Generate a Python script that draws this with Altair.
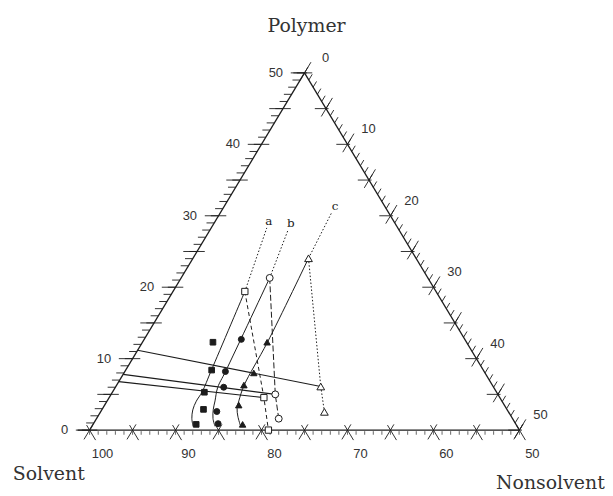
import altair as alt
import pandas as pd

# ---------------- data (wt %) : p = polymer, n = nonsolvent ----------------
TICKS = list(range(0, 51))
LABEL_VALUES = [0, 10, 20, 30, 40, 50]
POLYMER_LABELS = ["0", "10", "20", "30", "40", "50"]
NONSOLVENT_LABELS = ["0", "10", "20", "30", "40", "50"]
SOLVENT_LABELS = ["100", "90", "80", "70", "60", "50"]

# filled symbols (cloud points)
CLOUD_A_P = [12.3, 8.4, 5.3, 2.9, 0.8]
CLOUD_A_N = [8.2, 10.0, 10.7, 11.8, 12.0]
CLOUD_B_P = [12.7, 8.2, 6.0, 2.6, 0.9]
CLOUD_B_N = [11.3, 11.7, 12.6, 13.5, 14.5]
CLOUD_C_P = [12.3, 8.0, 6.3, 3.5, 0.8]
CLOUD_C_N = [14.5, 15.1, 14.8, 15.6, 17.4]

# open symbols
OPEN_A_P = [19.4, 4.55, 0.0]
OPEN_A_N = [8.36, 18.0, 20.8]
OPEN_B_P = [21.3, 5.0, 1.6]
OPEN_B_N = [10.3, 19.1, 21.2]
OPEN_C_P = [24.05, 6.1, 2.55]
OPEN_C_N = [13.44, 23.84, 26.04]

# solid curves
CURVE_A_P = [0.52, 1.63, 2.83, 4.04, 5.33, 8.36, 19.4]
CURVE_A_N = [11.78, 11.08, 10.59, 10.39, 10.42, 9.98, 8.36]
CURVE_B_P = [0.52, 1.63, 2.92, 4.08, 5.95, 8.22, 21.3]
CURVE_B_N = [14.33, 13.54, 12.93, 12.55, 11.92, 11.71, 10.3]
CURVE_C_P = [0.56, 1.95, 3.02, 4.08, 6.27, 12.3, 24.05]
CURVE_C_N = [17.28, 16.27, 15.65, 15.32, 14.84, 14.54, 13.44]

# tie lines: start on polymer axis (n = 0)
TIE_START_P = [11.18, 7.8, 6.78]
TIE_END_P = [6.1, 5.0, 4.55]
TIE_END_N = [23.84, 19.1, 18.0]

# dotted extensions to series names
SERIES_NAMES = ["a", "b", "c"]
EXT_END_P = [28.3, 27.9, 30.4]
EXT_END_N = [6.46, 9.1, 12.94]
NAME_P = [29.3, 29.0, 31.3]
NAME_N = [6.2, 8.9, 12.9]

TITLES = ["Polymer", "Solvent", "Nonsolvent"]
TITLE_P = [56.55, -6.1, -7.4]
TITLE_N = [-3.04, -1.7, 57.3]

INK = "#1c1c1c"

# ---------------- scales ----------------
XS = alt.Scale(domain=[0, 50], range=[82, 514], nice=False, zero=False)
YS = alt.Scale(domain=[0, 50], range=[423, 64], nice=False, zero=False)
X = alt.X("X:Q", scale=XS, axis=None)
Y = alt.Y("Y:Q", scale=YS, axis=None)


def tern(df):
    return alt.Chart(df).transform_calculate(X="datum.n + datum.p / 2", Y="datum.p")


def segs_chart(df, **mark):
    return (
        alt.Chart(df)
        .transform_calculate(
            X="datum.n1 + datum.p1 / 2", Y="datum.p1",
            X2="datum.n2 + datum.p2 / 2", Y2="datum.p2",
        )
        .mark_rule(**mark)
        .encode(x=X, y=Y, x2="X2:Q", y2="Y2:Q")
    )


# ---------------- axes (triangle + ticks) ----------------
edge_rows, tick_rows, minor_rows = [], [], []
edge_rows.append(dict(p1=0, n1=-1.4, p2=0, n2=50))
edge_rows.append(dict(p1=0, n1=0, p2=50, n2=0))
edge_rows.append(dict(p1=50, n1=0, p2=0, n2=50))
for t in TICKS:
    big = t % 5 == 0
    # polymer axis (left)
    tick_rows.append(dict(p1=t, n1=0, p2=t, n2=-0.9))
    if big:
        tick_rows.append(dict(p1=t, n1=-1.6, p2=t, n2=0.9))
    # nonsolvent axis (right)
    pr = 50 - t
    tick_rows.append(dict(p1=pr, n1=t, p2=pr + 0.8, n2=t))
    if big:
        tick_rows.append(dict(p1=pr, n1=t - 1.3, p2=pr, n2=t + 0.3))
        tick_rows.append(dict(p1=pr - 1.1, n1=t, p2=pr + 1.5, n2=t))
    # solvent axis (bottom)
    minor_rows.append(dict(p1=-0.15, n1=t + 0.075, p2=-0.65, n2=t + 0.325))
    if big:
        tick_rows.append(dict(p1=-1.3, n1=t, p2=0.8, n2=t))
        tick_rows.append(dict(p1=-1.4, n1=t + 1.4, p2=0.7, n2=t - 0.7))

edges = segs_chart(pd.DataFrame(edge_rows), color=INK, strokeWidth=1.3)
ticks = segs_chart(pd.DataFrame(tick_rows), color=INK, strokeWidth=0.9)
minors = segs_chart(pd.DataFrame(minor_rows), color="#555", strokeWidth=0.9)

# axis labels
lab_left = pd.DataFrame({"p": LABEL_VALUES, "n": [-2.5] * 6, "t": POLYMER_LABELS})
lab_right = pd.DataFrame({"p": [50 - v + 2.1 for v in LABEL_VALUES],
                          "n": [v + 1.4 for v in LABEL_VALUES], "t": NONSOLVENT_LABELS})
lab_bottom = pd.DataFrame({"p": [-3.34] * 6, "n": [v + 3.17 for v in LABEL_VALUES],
                           "t": SOLVENT_LABELS})
num_font = dict(font="Liberation Sans", fontSize=13, color="#333")
t_left = tern(lab_left).mark_text(align="right", baseline="middle", **num_font).encode(x=X, y=Y, text="t:N")
t_right = tern(lab_right).mark_text(align="center", baseline="middle", **num_font).encode(x=X, y=Y, text="t:N")
t_bottom = tern(lab_bottom).mark_text(align="center", baseline="middle", **num_font).encode(x=X, y=Y, text="t:N")

titles = tern(pd.DataFrame({"p": TITLE_P, "n": TITLE_N, "t": TITLES})).mark_text(
    align="center", baseline="middle", font="DejaVu Serif", fontSize=19, color="#333"
).encode(x=X, y=Y, text="t:N")

# ---------------- curves ----------------
def curve_df(p, n, s):
    return pd.DataFrame({"p": p, "n": n, "i": list(range(len(p))), "s": s})


curves_df = pd.concat([
    curve_df(CURVE_A_P, CURVE_A_N, "a"),
    curve_df(CURVE_B_P, CURVE_B_N, "b"),
    curve_df(CURVE_C_P, CURVE_C_N, "c"),
])
curves = tern(curves_df).mark_line(interpolate="catmull-rom", color=INK, strokeWidth=1).encode(
    x=X, y=Y, order="i:Q", detail="s:N")


def path(p, n, dash):
    return tern(curve_df(p, n, "x")).mark_line(color=INK, strokeWidth=1, strokeDash=dash).encode(
        x=X, y=Y, order="i:Q")


dash_a = path(OPEN_A_P, OPEN_A_N, [4, 3])
dash_b = path(OPEN_B_P, OPEN_B_N, [6, 2.5])
dash_c = path(OPEN_C_P, OPEN_C_N, [1.5, 2])

ext_rows = []
for tp, tn, ep, en in zip([OPEN_A_P[0], OPEN_B_P[0], OPEN_C_P[0]],
                          [OPEN_A_N[0], OPEN_B_N[0], OPEN_C_N[0]], EXT_END_P, EXT_END_N):
    ext_rows.append(dict(p1=tp, n1=tn, p2=ep, n2=en))
exts = segs_chart(pd.DataFrame(ext_rows), color=INK, strokeWidth=1, strokeDash=[1.5, 2])

tie_rows = [dict(p1=sp, n1=0, p2=ep, n2=en) for sp, ep, en in zip(TIE_START_P, TIE_END_P, TIE_END_N)]
ties = segs_chart(pd.DataFrame(tie_rows), color=INK, strokeWidth=1.1)

names = tern(pd.DataFrame({"p": NAME_P, "n": NAME_N, "t": SERIES_NAMES})).mark_text(
    align="center", baseline="middle", font="DejaVu Serif", fontSize=12, color="#222"
).encode(x=X, y=Y, text="t:N")

# ---------------- symbols ----------------
def pts(p, n, shape, size, filled):
    df = pd.DataFrame({"p": p, "n": n})
    return tern(df).mark_point(
        shape=shape, size=size, filled=True, opacity=1,
        fill=INK if filled else "white", stroke=INK, strokeWidth=1,
    ).encode(x=X, y=Y)


sym = [
    pts(CLOUD_A_P, CLOUD_A_N, "square", 32, True),
    pts(CLOUD_B_P, CLOUD_B_N, "circle", 36, True),
    pts(CLOUD_C_P, CLOUD_C_N, "triangle-up", 42, True),
    pts(OPEN_A_P, OPEN_A_N, "square", 40, False),
    pts(OPEN_B_P, OPEN_B_N, "circle", 48, False),
    pts(OPEN_C_P, OPEN_C_N, "triangle-up", 60, False),
]

chart = alt.layer(
    edges, ticks, minors, t_left, t_right, t_bottom, titles,
    curves, dash_a, dash_b, dash_c, exts, ties, names, *sym,
).properties(
    width=600, height=484, padding=0, autosize=alt.AutoSizeParams(type="none"),
    background="white",
).configure_view(stroke=None)

chart.save("out.html", embed_options={"renderer": "svg", "actions": False})
